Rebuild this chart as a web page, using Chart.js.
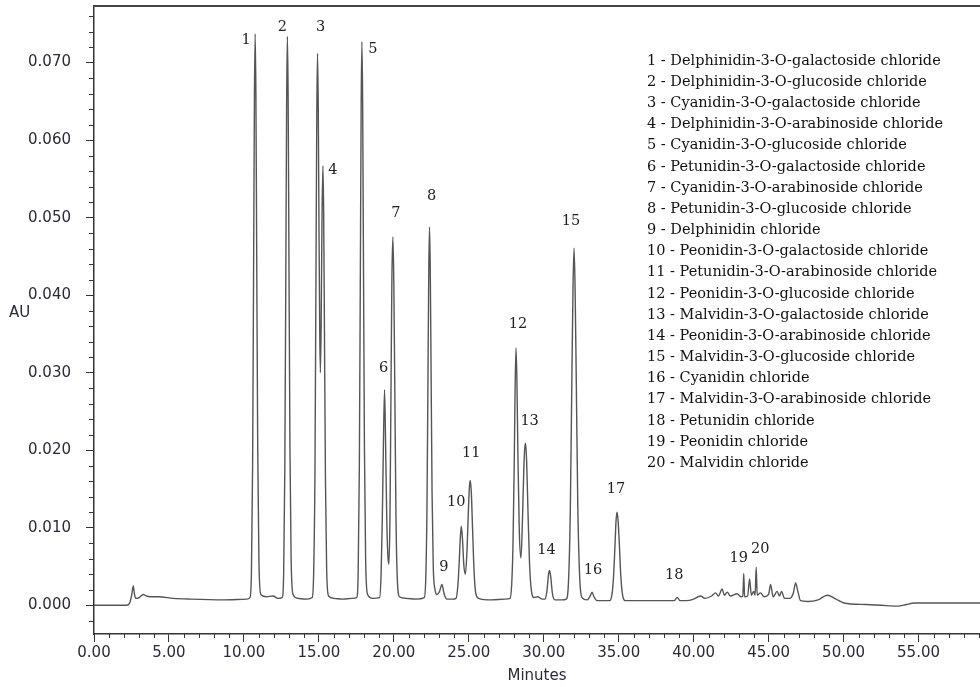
<!DOCTYPE html>
<html>
<head>
<meta charset="utf-8">
<title>Anthocyanin standards chromatogram</title>
<script src="https://cdn.jsdelivr.net/npm/chart.js@4.4.0/dist/chart.umd.min.js"></script>
<style>
  html, body { margin: 0; padding: 0; background: #fff; }
</style>
</head>
<body>
<canvas id="chart" width="980" height="687"></canvas>
<script>
// retention time (min) and absorbance (AU)
const retentionTimes = [
  0.00, 2.18, 2.40, 2.52, 2.62, 2.70, 2.78, 3.02, 3.29, 3.50, 3.74, 4.29, 5.29, 6.41, 8.63, 10.19,
  10.40, 10.50, 10.58, 10.65, 10.70, 10.75, 10.80, 10.85, 10.92, 11.00, 11.13, 11.50, 11.95, 12.25,
  12.55, 12.65, 12.73, 12.80, 12.85, 12.90, 12.95, 13.00, 13.07, 13.15, 13.28, 13.60, 14.20,
  14.55, 14.65, 14.74, 14.81, 14.86, 14.91, 14.96, 15.01, 15.06, 15.10, 15.15, 15.21, 15.27, 15.32, 15.37, 15.44, 15.52, 15.65,
  16.00, 16.60, 17.20,
  17.52, 17.62, 17.70, 17.77, 17.82, 17.87, 17.92, 17.97, 18.04, 18.12, 18.25, 18.60,
  19.05, 19.15, 19.23, 19.30, 19.38, 19.45, 19.53, 19.60, 19.67, 19.74, 19.80, 19.87, 19.94, 20.00, 20.06, 20.14, 20.23, 20.38,
  20.80, 21.50,
  22.03, 22.13, 22.21, 22.28, 22.33, 22.38, 22.43, 22.48, 22.55, 22.63, 22.75, 22.88, 23.05, 23.21, 23.35, 23.55, 23.90,
  24.15, 24.27, 24.36, 24.43, 24.50, 24.58, 24.67, 24.77, 24.88, 24.97, 25.04, 25.10, 25.17, 25.25, 25.35, 25.47, 25.65,
  26.50, 27.40,
  27.75, 27.87, 27.95, 28.03, 28.09, 28.15, 28.21, 28.28, 28.37, 28.48, 28.58, 28.67, 28.73, 28.79, 28.86, 28.95, 29.05, 29.17, 29.35,
  29.60, 29.90,
  30.10, 30.22, 30.32, 30.39, 30.47, 30.58, 30.75, 31.20,
  31.50, 31.65, 31.77, 31.87, 31.95, 32.02, 32.09, 32.17, 32.27, 32.40, 32.55,
  32.90, 33.10, 33.22, 33.35, 33.55,
  34.40, 34.55, 34.65, 34.75, 34.82, 34.89, 34.96, 35.04, 35.14, 35.27, 35.45,
  36.50, 38.00, 38.70, 38.90, 39.10, 39.50, 40.00, 40.45, 40.75, 41.20, 41.46, 41.65, 41.90, 42.05, 42.24, 42.45, 42.90,
  43.15, 43.28, 43.34, 43.40, 43.60, 43.73, 43.85, 44.01, 44.10, 44.17, 44.24, 44.46, 44.70,
  45.00, 45.13, 45.30, 45.57, 45.72, 45.86, 46.06, 46.40, 46.65, 46.80, 46.95, 47.13, 47.60,
  48.30, 48.91, 49.50, 50.02, 51.50, 52.50, 53.58, 54.20, 54.69, 56.50, 59.10
];
const absorbance = [
  0.0000, 0.0000, 0.0004, 0.0014, 0.0025, 0.0014, 0.0009, 0.0010, 0.0014, 0.0012, 0.0011, 0.0011, 0.0009, 0.0008, 0.0007, 0.0008,
  0.0010, 0.0040, 0.0180, 0.0450, 0.0651, 0.0737, 0.0657, 0.0467, 0.0205, 0.0059, 0.0014, 0.0011, 0.0012, 0.0009,
  0.0010, 0.0040, 0.0179, 0.0449, 0.0648, 0.0734, 0.0654, 0.0465, 0.0204, 0.0059, 0.0014, 0.0009, 0.0008,
  0.0010, 0.0040, 0.0175, 0.0440, 0.0630, 0.0712, 0.0640, 0.0480, 0.0350, 0.0300, 0.0360, 0.0500, 0.0567, 0.0505, 0.0360, 0.0160, 0.0045, 0.0012,
  0.0009, 0.0008, 0.0009,
  0.0010, 0.0040, 0.0178, 0.0444, 0.0642, 0.0727, 0.0648, 0.0461, 0.0202, 0.0058, 0.0014, 0.0009,
  0.0010, 0.0040, 0.0110, 0.0200, 0.0278, 0.0210, 0.0110, 0.0065, 0.0053, 0.0110, 0.0250, 0.0420, 0.0475, 0.0415, 0.0290, 0.0120, 0.0035, 0.0011,
  0.0009, 0.0008,
  0.0010, 0.0035, 0.0125, 0.0300, 0.0430, 0.0488, 0.0435, 0.0315, 0.0145, 0.0050, 0.0020, 0.0014, 0.0018, 0.0027, 0.0015, 0.0008, 0.0008,
  0.0009, 0.0025, 0.0055, 0.0085, 0.0102, 0.0085, 0.0052, 0.0040, 0.0070, 0.0120, 0.0152, 0.0161, 0.0145, 0.0100, 0.0045, 0.0015, 0.0009,
  0.0007, 0.0008,
  0.0009, 0.0030, 0.0080, 0.0180, 0.0280, 0.0332, 0.0290, 0.0190, 0.0095, 0.0061, 0.0110, 0.0175, 0.0202, 0.0209, 0.0185, 0.0120, 0.0055, 0.0020, 0.0010,
  0.0011, 0.0008,
  0.0008, 0.0020, 0.0040, 0.0045, 0.0036, 0.0015, 0.0007, 0.0007,
  0.0008, 0.0030, 0.0120, 0.0282, 0.0407, 0.0461, 0.0410, 0.0290, 0.0130, 0.0035, 0.0010,
  0.0007, 0.0012, 0.0017, 0.0011, 0.0006,
  0.0006, 0.0014, 0.0035, 0.0076, 0.0108, 0.0120, 0.0109, 0.0080, 0.0038, 0.0012, 0.0006,
  0.0006, 0.0006, 0.0006, 0.0010, 0.0006, 0.0006, 0.0008, 0.0012, 0.0009, 0.0012, 0.0016, 0.0012, 0.0021, 0.0013, 0.0017, 0.0012, 0.0015,
  0.0011, 0.0012, 0.0041, 0.0011, 0.0012, 0.0034, 0.0013, 0.0018, 0.0013, 0.0049, 0.0013, 0.0016, 0.0011,
  0.0014, 0.0027, 0.0011, 0.0018, 0.0012, 0.0018, 0.0009, 0.0009, 0.0016, 0.0029, 0.0018, 0.0006, 0.0005,
  0.0007, 0.0013, 0.0008, 0.0003, 0.0001, 0.0000, -0.0001, 0.0001, 0.0003, 0.0003, 0.0003
];

// numbered peaks (apex time and height)
const peakNumbers = ['1','2','3','4','5','6','7','8','9','10','11','12','13','14','15','16','17','18','19','20'];
const peakTimes = [10.75, 12.90, 14.91, 15.27, 17.87, 19.38, 19.94, 22.38, 23.21, 24.50, 25.10, 28.15, 28.79, 30.39, 32.02, 33.22, 34.89, 38.90, 43.34, 44.17];
const peakHeights = [0.0737, 0.0734, 0.0712, 0.0567, 0.0727, 0.0278, 0.0475, 0.0488, 0.0027, 0.0102, 0.0161, 0.0332, 0.0209, 0.0045, 0.0461, 0.0017, 0.0120, 0.0010, 0.0041, 0.0049];

const compoundNames = [
  'Delphinidin-3-O-galactoside chloride',
  'Delphinidin-3-O-glucoside chloride',
  'Cyanidin-3-O-galactoside chloride',
  'Delphinidin-3-O-arabinoside chloride',
  'Cyanidin-3-O-glucoside chloride',
  'Petunidin-3-O-galactoside chloride',
  'Cyanidin-3-O-arabinoside chloride',
  'Petunidin-3-O-glucoside chloride',
  'Delphinidin chloride',
  'Peonidin-3-O-galactoside chloride',
  'Petunidin-3-O-arabinoside chloride',
  'Peonidin-3-O-glucoside chloride',
  'Malvidin-3-O-galactoside chloride',
  'Peonidin-3-O-arabinoside chloride',
  'Malvidin-3-O-glucoside chloride',
  'Cyanidin chloride',
  'Malvidin-3-O-arabinoside chloride',
  'Petunidin chloride',
  'Peonidin chloride',
  'Malvidin chloride'
];

// axis ticks
const xTickValues = [0, 5, 10, 15, 20, 25, 30, 35, 40, 45, 50, 55];
const yTickValues = [0, 0.01, 0.02, 0.03, 0.04, 0.05, 0.06, 0.07];

// pixel nudges for the peak numbers (label placement only)
const labelNudge = [[-9,6],[-5,-9],[3,-26],[10,5],[11,8],[-1,-22],[3,-24],[2,-31],[2,-17],[-5,-24],
                    [1,-27],[2,-24],[4,-22],[-3,-20],[-3,-27],[1,-22],[-1,-23],[-3,-22],[-5,-15],[4,-18]];

const inkColor = '#2a2a3a';
const sansFont = '"DejaVu Sans", Verdana, sans-serif';
const serifFont = '"DejaVu Serif", Georgia, serif';

// short minor ticks, top border, "AU", peak numbers and the compound list
const extras = {
  id: 'extras',
  afterDraw(chart) {
    const { ctx, chartArea, scales: { x, y } } = chart;
    ctx.save();
    ctx.strokeStyle = '#333';
    ctx.lineWidth = 1;
    ctx.beginPath();
    for (let m = 1; m <= 59; m++) {
      if (m % 5 === 0) continue;
      const px = Math.round(x.getPixelForValue(m)) + 0.5;
      ctx.moveTo(px, chartArea.bottom);
      ctx.lineTo(px, chartArea.bottom + 4);
    }
    for (let k = -1; k <= 38; k++) {
      if (k % 5 === 0) continue;
      const py = Math.round(y.getPixelForValue(k * 0.002)) + 0.5;
      ctx.moveTo(chartArea.left - 5, py);
      ctx.lineTo(chartArea.left, py);
    }
    ctx.stroke();

    // frame top
    ctx.strokeStyle = '#444';
    ctx.lineWidth = 2;
    ctx.beginPath();
    ctx.moveTo(chartArea.left - 1, chartArea.top);
    ctx.lineTo(chartArea.right, chartArea.top);
    ctx.stroke();

    // AU (horizontal)
    ctx.fillStyle = inkColor;
    ctx.font = '15px ' + sansFont;
    ctx.textAlign = 'left';
    ctx.textBaseline = 'middle';
    ctx.fillText('AU', 9, 313);

    // peak numbers
    ctx.font = '14.5px ' + serifFont;
    ctx.textAlign = 'center';
    ctx.fillStyle = '#222';
    peakNumbers.forEach((n, i) => {
      const px = x.getPixelForValue(peakTimes[i]) + labelNudge[i][0];
      const py = y.getPixelForValue(peakHeights[i]) + labelNudge[i][1];
      ctx.fillText(n, px, py);
    });

    // compound list
    ctx.textAlign = 'left';
    ctx.fillStyle = '#111';
    compoundNames.forEach((name, i) => {
      ctx.fillText(peakNumbers[i] + ' - ' + name, 647, 61 + i * 21.17);
    });
    ctx.restore();
  }
};

const noPad = s => { s.paddingTop = 0; s.paddingBottom = 0; s.paddingLeft = 0; s.paddingRight = 0; };

const ctx = document.getElementById('chart');

new Chart(ctx, {
  type: 'line',
  data: {
    datasets: [{
      data: retentionTimes.map((t, i) => ({ x: t, y: absorbance[i] })),
      borderColor: '#555',
      borderWidth: 1.4,
      pointRadius: 0,
      cubicInterpolationMode: 'monotone',
      fill: false
    }]
  },
  options: {
    responsive: false,
    animation: false,
    devicePixelRatio: 1,
    layout: { padding: { top: 6, left: 0, right: 0, bottom: 0 } },
    plugins: { legend: { display: false }, tooltip: { enabled: false } },
    scales: {
      x: {
        type: 'linear',
        min: 0,
        max: 59.1,
        afterBuildTicks: s => { s.ticks = xTickValues.map(v => ({ value: v })); },
        afterFit: s => { s.height = 53; noPad(s); },
        grid: { drawOnChartArea: false, tickLength: 8, color: '#333' },
        border: { color: '#333', width: 1.5 },
        ticks: {
          autoSkip: false,
          maxRotation: 0,
          padding: 2,
          color: inkColor,
          font: { family: sansFont, size: 15 },
          callback: v => Number(v).toFixed(2)
        },
        title: {
          display: true,
          text: 'Minutes',
          color: inkColor,
          font: { family: sansFont, size: 15 },
          padding: { top: 0, bottom: 2 }
        }
      },
      y: {
        min: -0.0037,
        max: 0.0773,
        afterBuildTicks: s => { s.ticks = yTickValues.map(v => ({ value: v })); },
        afterFit: s => { s.width = 94; noPad(s); },
        grid: { drawOnChartArea: false, tickLength: 8, color: '#333' },
        border: { color: '#333', width: 1.5 },
        ticks: {
          padding: 15,
          color: inkColor,
          font: { family: sansFont, size: 15 },
          callback: v => Number(v).toFixed(3)
        }
      }
    }
  },
  plugins: [extras]
});
</script>
</body>
</html>
